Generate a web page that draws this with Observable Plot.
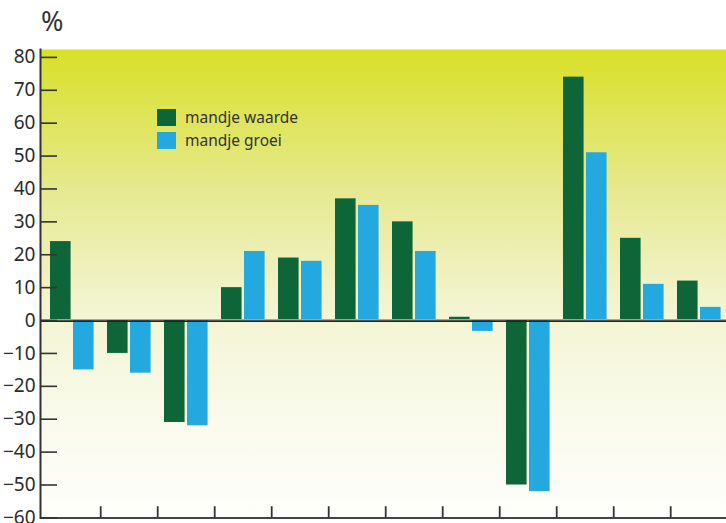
<!DOCTYPE html>
<html>
<head>
<meta charset="utf-8">
<script src="https://cdn.jsdelivr.net/npm/d3@7"></script>
<script src="https://cdn.jsdelivr.net/npm/@observablehq/plot@0.6"></script>
<style>
  html, body { margin: 0; padding: 0; background: #fff; }
  #wrap { position: relative; width: 726px; height: 523px; overflow: hidden; font-family: "Noto Sans", sans-serif; }
  #pct { position: absolute; left: 41px; top: 2px; font-size: 27px; color: #333; }
  #legend { position: absolute; left: 157px; top: 107px; font-size: 15.5px; color: #333; }
  .item { display: flex; align-items: center; height: 26px; margin-top: -3px; }
  .sw { width: 19px; height: 17px; margin-right: 9px; }
</style>
</head>
<body>
<div id="wrap">
  <div id="chart"></div>
  <div id="pct">%</div>
  <div id="legend"></div>
</div>
<script>
// ---- data ----
const categories = ["1","2","3","4","5","6","7","8","9","10","11","12"];
const seriesNames = ["mandje waarde", "mandje groei"];
const waarde = [24, -10, -31, 10, 19, 37, 30, 1, -50, 74, 25, 12];
const groei  = [-15, -16, -32, 21, 18, 35, 21, -3.3, -52, 51, 11, 4];
const yTicks = [-60, -50, -40, -30, -20, -10, 0, 10, 20, 30, 40, 50, 60, 70, 80];
const colors = ["#0e6638", "#23a8e0"];

const W = 726, H = 523, mL = 40, mR = -3, mT = 49, mB = 5.6;
const bw = (W - mL - mR) / categories.length;

const rowsW = categories.map((c, i) => ({cat: c, value: waarde[i]}));
const rowsG = categories.map((c, i) => ({cat: c, value: groei[i]}));

const plot = Plot.plot({
  width: W, height: H,
  marginLeft: mL, marginRight: mR, marginTop: mT, marginBottom: mB,
  style: {fontFamily: "Noto Sans, sans-serif", background: "transparent", overflow: "visible"},
  x: {domain: categories, padding: 0, axis: null, label: null},
  y: {domain: [-60, 82.4], axis: null, label: null},
  marks: [
    Plot.frame({fill: "url(#bggrad)", stroke: "none"}),
    Plot.barY(rowsW, {x: "cat", y: "value", fill: colors[0], insetLeft: 7, insetRight: bw - 28}),
    Plot.barY(rowsG, {x: "cat", y: "value", fill: colors[1], insetLeft: 30, insetRight: bw - 51}),
    Plot.ruleY([0], {stroke: "#a9a79a", strokeWidth: 1, dy: -1}),
    Plot.ruleY([0], {stroke: "#222", strokeWidth: 1.6, dy: 0.6}),
    Plot.ruleY([-60], {stroke: "#444", strokeWidth: 2}),
    Plot.ruleX(categories.slice(0, 11), {x: d => d, y1: -60, y2: -56.6, dx: bw / 2, stroke: "#333", strokeWidth: 1.8}),
    Plot.axisY(yTicks, {anchor: "left", label: null, tickSize: 17, dx: 17, tickFormat: () => "", stroke: "#333", strokeWidth: 1.6}),
    Plot.axisY(yTicks, {anchor: "left", label: null, tickSize: 0, tickPadding: 5, fontSize: 19, fill: "#2b2b2b"}),
    Plot.frame({anchor: "left", stroke: "#333", strokeWidth: 2})
  ]
});

// gradient background
const svg = d3.select(plot);
const defs = svg.insert("defs", ":first-child");
const g = defs.append("linearGradient").attr("id", "bggrad")
  .attr("x1", 0).attr("y1", 0).attr("x2", 0).attr("y2", 1);
[[0, "#d8e027"], [0.3, "#e6e98f"], [0.54, "#f2f4cf"], [0.77, "#f9faea"], [1, "#fefefc"]]
  .forEach(([o, c]) => g.append("stop").attr("offset", o).attr("stop-color", c));

document.getElementById("chart").appendChild(plot);

const legend = document.getElementById("legend");
seriesNames.forEach((name, i) => {
  const it = document.createElement("div");
  it.className = "item";
  const sw = document.createElement("div");
  sw.className = "sw";
  sw.style.background = colors[i];
  const t = document.createElement("span");
  t.textContent = name;
  it.appendChild(sw); it.appendChild(t);
  legend.appendChild(it);
});
</script>
</body>
</html>
